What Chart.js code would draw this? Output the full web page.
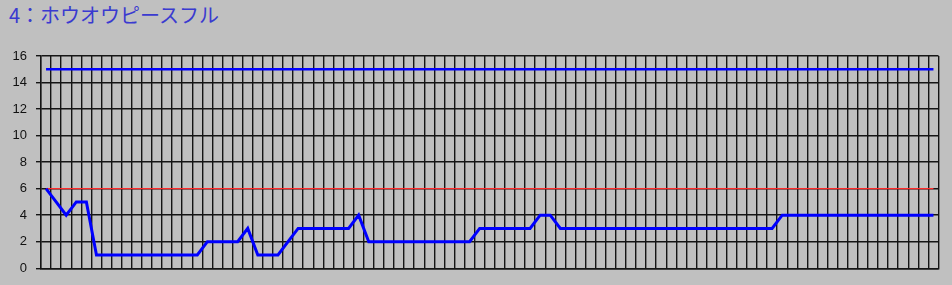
<!DOCTYPE html>
<html>
<head>
<meta charset="utf-8">
<script src="https://cdn.jsdelivr.net/npm/chart.js@4"></script>
<style>
  html, body { margin: 0; padding: 0; background: #c0c0c0; }
  #wrap { position: relative; width: 952px; height: 285px; background: #c0c0c0; overflow: hidden; }
  #title { position: absolute; left: 9px; top: 2px; font-family: "Noto Sans CJK JP", sans-serif; font-size: 20px; line-height: 26px; color: #3a3ad0; white-space: nowrap; }
  canvas { position: absolute; left: 0; top: 0; }
</style>
</head>
<body>
<div id="wrap">
  <div id="title">4：ホウオウピースフル</div>
  <canvas id="c" width="952" height="285"></canvas>
</div>
<script>
const titleText = "4：ホウオウピースフル";
const categories = [];
for (let i = 1; i <= 89; i++) categories.push(String(i));
const mainValues = [
  6,5,4,5,5,
  1,1,1,1,1,1,1,1,1,1,1,
  2,2,2,2,
  3,
  1,1,1,
  2,
  3,3,3,3,3,3,
  4,
  2,2,2,2,2,2,2,2,2,2,2,
  3,3,3,3,3,3,
  4,4,
  3,3,3,3,3,3,3,3,3,3,3,3,3,3,3,3,3,3,3,3,3,3,
  4,4,4,4,4,4,4,4,4,4,4,4,4,4,4,4
];
const upperValues = categories.map(() => 15);
const refValues = categories.map(() => 6);
const yTicks = [0, 2, 4, 6, 8, 10, 12, 14, 16];

new Chart(document.getElementById('c'), {
  type: 'line',
  data: {
    labels: categories,
    datasets: [
      { data: mainValues, borderColor: '#0000ff', borderWidth: 3, pointRadius: 0, tension: 0, borderJoinStyle: 'miter' },
      { data: upperValues, borderColor: '#0000ff', borderWidth: 2.5, pointRadius: 0 },
      { data: refValues, borderColor: '#ff2a2a', borderWidth: 1.3, pointRadius: 0 }
    ]
  },
  options: {
    responsive: false,
    animation: false,
    events: [],
    layout: { padding: { left: 0, right: 13.5, top: 56, bottom: 11.5 } },
    plugins: { legend: { display: false }, tooltip: { enabled: false }, title: { display: false } },
    scales: {
      x: {
        type: 'category',
        offset: true,
        afterFit: (s) => { s.height = 0; },
        grid: { offset: true, color: '#151515', lineWidth: 1.4, drawTicks: false },
        border: { color: '#151515', width: 1.4 },
        ticks: { display: false }
      },
      y: {
        min: 0, max: 16,
        afterBuildTicks: (s) => { s.ticks = yTicks.map(v => ({ value: v })); },
        afterFit: (s) => { s.width = 41; },
        grid: { color: '#151515', lineWidth: 1.4, tickLength: 5 },
        border: { color: '#151515', width: 1.4 },
        ticks: { color: '#111', padding: 9, font: { family: 'Liberation Sans', size: 13 } }
      }
    }
  }
});
</script>
</body>
</html>
